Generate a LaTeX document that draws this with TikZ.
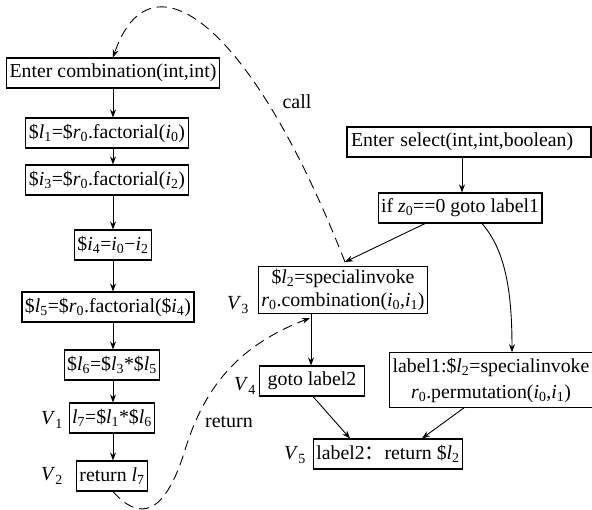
\documentclass[tikz,border=0pt]{standalone}
\usepackage{fontspec}
\setmainfont{Liberation Serif}
\newfontfamily\cjk{Noto Sans CJK SC}
\usetikzlibrary{arrows.meta}
\newcommand\vv[2]{\textit{#1}\textsubscript{#2}}
\tikzset{
  box/.style={draw, line width=1.1pt, inner xsep=3pt, inner ysep=2pt, minimum height=30pt, align=center, font=\fontsize{19.8}{23}\selectfont},
  lbl/.style={inner sep=0pt, font=\fontsize{20}{23}\selectfont},
  arr/.style={line width=0.9pt, -{Stealth[length=8pt,width=6pt]}},
  darr/.style={line width=0.9pt, dash pattern=on 10pt off 6pt, -{Stealth[length=8pt,width=6pt]}}
}
\begin{document}
\begin{tikzpicture}[x=1pt,y=-1pt]
\useasboundingbox (0,0) rectangle (592,510);
% left chain
\node[box] (ec) at (113,73) {Enter combination(int,int)};
\node[box] (n1) at (107,133) {\$\vv{l}{1}=\$\vv{r}{0}.factorial(\vv{i}{0})};
\node[box] (n2) at (107,180) {\$\vv{i}{3}=\$\vv{r}{0}.factorial(\vv{i}{2})};
\node[box] (n3) at (113,245) {\$\vv{i}{4}=\vv{i}{0}−\vv{i}{2}};
\node[box] (n4) at (108,307) {\$\vv{l}{5}=\$\vv{r}{0}.factorial(\$\vv{i}{4})};
\node[box] (n5) at (112,365) {\$\vv{l}{6}=\$\vv{l}{3}*\$\vv{l}{5}};
\node[box] (n6) at (112,418) {\vv{l}{7}=\$\vv{l}{1}*\$\vv{l}{6}};
\node[box] (n7) at (112,476) {return \textit{l}\textsubscript{7}};
% right part
\node[box, minimum width=244pt, text width=236pt, align=left, inner xsep=4pt] (es) at (469,142) {Enter select(int,int,boolean)};
\node[box] (iz) at (460,208) {if \vv{z}{0}==0 goto label1};
\node[box, inner ysep=3pt] (sp) at (343,290) {\$\vv{l}{2}=specialinvoke\\\vv{r}{0}.combination(\vv{i}{0},\vv{i}{1})};
\node[box, minimum width=105pt] (gt) at (312,381) {goto label2};
\node[box, inner ysep=5pt, font=\fontsize{19.8}{26}\selectfont] (lb1) at (491,380) {label1:\$\vv{l}{2}=specialinvoke\\\vv{r}{0}.permutation(\vv{i}{0},\vv{i}{1})};
\node[box] (lb2) at (388,454) {label2{\cjk ：}return \$\vv{l}{2}};
% vertex labels
\node[lbl] (v1) at (52,420) {\vv{V}{1}};
\node[lbl] (v2) at (52,476) {\vv{V}{2}};
\node[lbl] (v3) at (238,305) {\vv{V}{3}};
\node[lbl] (v4) at (245,386) {\vv{V}{4}};
\node[lbl] (v5) at (295,455) {\vv{V}{5}};
\node[lbl] (call) at (297,102) {call};
\node[lbl] (ret) at (229,422) {return};
% solid arrows left
\foreach \a/\b in {ec/n1,n1/n2,n2/n3,n3/n4,n4/n5,n5/n6,n6/n7}
  \draw[arr] (\a.south -| 113,0) -- (\b.north -| 113,0);
% solid arrows right
\draw[arr] (es.south -| 462,0) -- (iz.north -| 462,0);
\coordinate (spt) at (345,262);
\draw[arr] (iz.south -| 425,0) -- (spt);
\draw[arr] (iz.south -| 482,0) .. controls (505,250) and (512,290) .. (lb1.north -| 512,0);
\draw[arr] (sp.south -| 311,0) -- (gt.north -| 311,0);
\draw[arr] (gt.south -| 313,0) -- (lb2.north -| 350,0);
\draw[arr] (lb1.south -| 464,0) -- (lb2.north -| 422,0);
% dashed call / return
\draw[darr] (spt) .. controls (250,20) and (150,-50) .. (ec.north -| 113,0);
\coordinate (mid) at (185,450);
\coordinate (spb) at (310,318);
\draw[darr] (n7.south -| 113,0) .. controls (140,522) and (165,515) .. (mid) .. controls (205,385) and (240,345) .. (spb);
\end{tikzpicture}
\end{document}
